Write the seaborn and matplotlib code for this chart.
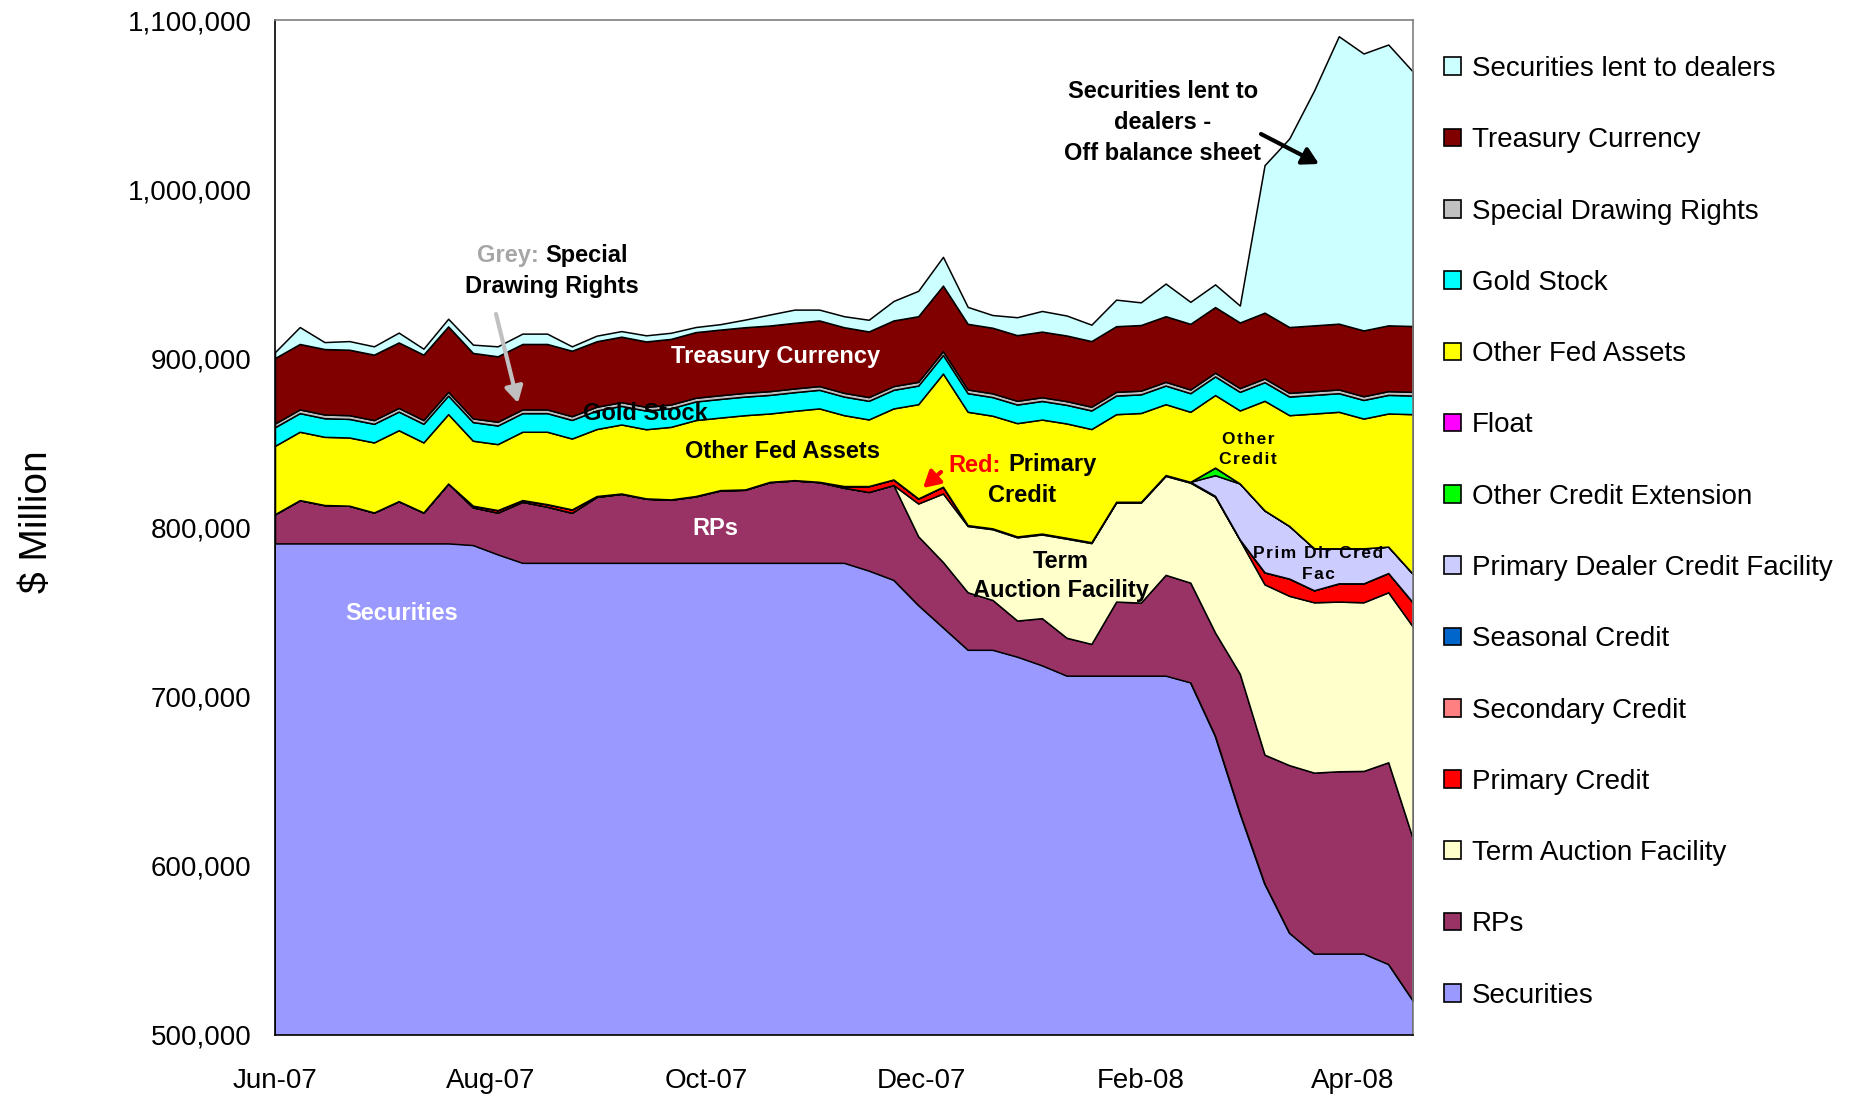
import matplotlib

matplotlib.use("Agg")
import matplotlib.dates as mdates
import matplotlib.pyplot as plt
import pandas as pd
import seaborn as sns
from matplotlib.patches import Patch
from matplotlib.ticker import FuncFormatter, MultipleLocator

W, H = 1860, 1096

# weekly observations, Wednesday levels, $ million
dates = pd.date_range("2007-06-27", periods=47, freq="7D")

securities = [
    790600, 790600, 790600, 790600, 790600, 790600, 790600, 790600, 789600, 784100,
    779100, 779100, 779100, 779100, 779100, 779100, 779100, 779100, 779100, 779100,
    779100, 779100, 779100, 779100, 774500, 769000, 754100, 740900, 727700, 727700,
    723600, 718500, 712400, 712400, 712400, 712400, 712400, 708400, 676800, 631100,
    589400, 560300, 548100, 548100, 548100, 541900, 520200,
]
rps = [
    17300, 25600, 22700, 22300, 18300, 25000, 18300, 35400, 22300, 24700,
    36100, 33200, 29600, 39000, 40800, 37900, 37300, 39300, 42800, 43200,
    47700, 48700, 47700, 44400, 46500, 56100, 40700, 38700, 34000, 29500,
    21400, 27900, 22400, 18800, 43800, 43200, 59600, 59000, 61100, 82400,
    76300, 99200, 107000, 107800, 108000, 119300, 95600,
]
term_auction = [
    0, 0, 0, 0, 0, 0, 0, 0, 0, 0,
    0, 0, 0, 0, 0, 0, 0, 0, 0, 0,
    0, 0, 0, 0, 0, 0, 19400, 40500, 39200, 41800,
    49200, 49500, 58600, 59600, 58500, 59100, 58500, 59100, 80300, 79100,
    100700, 100100, 100700, 100300, 99700, 100500, 125500,
]
primary_credit = [
    0, 0, 0, 0, 0, 0, 0, 0, 1000, 1500,
    1000, 1500, 2000, 500, 200, 200, 200, 200, 200, 200,
    200, 200, 200, 1000, 3500, 3300, 3000, 4000, 500, 500,
    500, 500, 500, 500, 500, 500, 500, 500, 500, 300,
    7100, 10200, 7100, 10800, 11200, 11400, 14300,
]
secondary_credit = [
    0, 0, 0, 0, 0, 0, 0, 0, 0, 0,
    0, 0, 0, 0, 0, 0, 0, 0, 0, 0,
    0, 0, 0, 0, 0, 0, 0, 0, 0, 0,
    0, 0, 0, 0, 0, 0, 0, 0, 0, 0,
    0, 0, 0, 0, 0, 0, 0,
]
seasonal_credit = [
    0, 0, 0, 0, 0, 0, 0, 0, 0, 0,
    0, 0, 0, 0, 0, 0, 0, 0, 0, 0,
    0, 0, 0, 0, 0, 0, 0, 0, 0, 0,
    0, 0, 0, 0, 0, 0, 0, 0, 0, 0,
    0, 0, 0, 0, 0, 0, 0,
]
dealer_credit = [
    0, 0, 0, 0, 0, 0, 0, 0, 0, 0,
    0, 0, 0, 0, 0, 0, 0, 0, 0, 0,
    0, 0, 0, 0, 0, 0, 0, 0, 0, 0,
    0, 0, 0, 0, 0, 0, 0, 0, 12200, 33100,
    36600, 31100, 24800, 20700, 20700, 15600, 16900,
]
other_credit = [
    0, 0, 0, 0, 0, 0, 0, 0, 0, 0,
    0, 0, 0, 0, 0, 0, 0, 0, 0, 0,
    0, 0, 0, 0, 0, 0, 0, 0, 0, 0,
    0, 0, 0, 0, 0, 0, 0, 0, 4500, 0,
    0, 0, 0, 0, 0, 0, 0,
]
float_ = [
    0, 0, 0, 0, 0, 0, 0, 0, 0, 0,
    0, 0, 0, 0, 0, 0, 0, 0, 0, 0,
    0, 0, 0, 0, 0, 0, 0, 0, 0, 0,
    0, 0, 0, 0, 0, 0, 0, 0, 0, 0,
    0, 0, 0, 0, 0, 0, 0,
]
other_fed_assets = [
    40400, 40400, 40300, 40300, 41400, 41900, 41400, 41000, 38400, 39000,
    40400, 42800, 41900, 39600, 40800, 40900, 42900, 44900, 42900, 43900,
    40400, 41000, 43400, 41900, 39400, 42000, 55700, 66900, 67000, 66600,
    67000, 67400, 67600, 66900, 51800, 52500, 41900, 41400, 42900, 43200,
    64800, 65500, 79700, 80700, 76700, 78700, 94500,
]
gold_stock = [
    11000, 11000, 11000, 11000, 11000, 11000, 11000, 11000, 11000, 11000,
    11000, 11000, 11000, 11000, 11000, 11000, 11000, 11000, 11000, 11000,
    11000, 11000, 11000, 11000, 11000, 11000, 11000, 11000, 11000, 11000,
    11000, 11000, 11000, 11000, 11000, 11000, 11000, 11000, 11000, 11000,
    11000, 11000, 11000, 11000, 11000, 11000, 11000,
]
sdr = [
    2200, 2200, 2200, 2200, 2200, 2200, 2200, 2200, 2200, 2200,
    2200, 2200, 2200, 2200, 2200, 2200, 2200, 2200, 2200, 2200,
    2200, 2200, 2200, 2200, 2200, 2200, 2200, 2200, 2200, 2200,
    2200, 2200, 2200, 2200, 2200, 2200, 2200, 2200, 2200, 2200,
    2200, 2200, 2200, 2200, 2200, 2200, 2200,
]
treasury_currency = [
    38700, 38700, 38700, 38700, 38700, 38700, 38700, 38700, 38700, 38700,
    38700, 38700, 38700, 38700, 38700, 38700, 38800, 38800, 38800, 38800,
    38800, 38800, 38800, 38800, 38800, 38800, 38800, 38800, 38800, 38800,
    38800, 38800, 38800, 38800, 38800, 38800, 38800, 38800, 38800, 38800,
    38900, 38900, 38900, 38900, 38900, 38900, 38900,
]
securities_lent = [
    3500, 10000, 4100, 5100, 4900, 5800, 3500, 4500, 4900, 5900,
    6100, 6100, 2600, 3300, 3300, 3600, 3600, 3000, 3200, 4500,
    6500, 7800, 6400, 6500, 6900, 11500, 15000, 17000, 10000, 7500,
    10600, 12200, 11800, 9700, 15700, 13400, 19300, 13000, 13400, 10000,
    87200, 111500, 138800, 169900, 163700, 166000, 150300,
]

# stacking order, bottom to top
series = [
    ("Securities", securities, "#9999FF"),
    ("RPs", rps, "#993366"),
    ("Term Auction Facility", term_auction, "#FFFFCC"),
    ("Primary Credit", primary_credit, "#FF0000"),
    ("Secondary Credit", secondary_credit, "#FF8080"),
    ("Seasonal Credit", seasonal_credit, "#0066CC"),
    ("Primary Dealer Credit Facility", dealer_credit, "#CCCCFF"),
    ("Other Credit Extension", other_credit, "#00FF00"),
    ("Float", float_, "#FF00FF"),
    ("Other Fed Assets", other_fed_assets, "#FFFF00"),
    ("Gold Stock", gold_stock, "#00FFFF"),
    ("Special Drawing Rights", sdr, "#C0C0C0"),
    ("Treasury Currency", treasury_currency, "#800000"),
    ("Securities lent to dealers", securities_lent, "#CCFFFF"),
]

df = pd.DataFrame({name: values for name, values, _ in series}, index=dates)

sns.set_theme(style="white")
plt.rcParams["font.family"] = ["Liberation Sans", "DejaVu Sans"]
plt.rcParams["text.color"] = "black"
plt.rcParams["legend.labelcolor"] = "black"

fig = plt.figure(figsize=(W / 100, H / 100), dpi=100)
ax = fig.add_axes([275 / W, 1 - 1035 / H, (1413 - 275) / W, (1035 - 20) / H])

ax.stackplot(
    df.index,
    *[df[name] for name, _, _ in series],
    colors=[c for _, _, c in series],
    edgecolor="black",
    linewidth=1.1,
)

ax.set_xlim(dates[0], dates[-1])
ax.set_ylim(500000, 1100000)
ax.yaxis.set_major_locator(MultipleLocator(100000))
ax.yaxis.set_major_formatter(FuncFormatter(lambda v, _: f"{v:,.0f}"))
ax.xaxis.set_major_locator(mdates.MonthLocator(bymonth=[2, 4, 6, 8, 10, 12], bymonthday=27))
ax.xaxis.set_major_formatter(mdates.DateFormatter("%b-%y"))
ax.tick_params(axis="both", which="major", direction="out", length=7, width=1,
               color="black", labelsize=20, labelcolor="black")
ax.tick_params(axis="y", pad=10)
ax.tick_params(axis="x", pad=17)
for side in ["left", "bottom"]:
    ax.spines[side].set_color("black")
    ax.spines[side].set_linewidth(1.2)
for side in ["top", "right"]:
    ax.spines[side].set_color("#808080")
    ax.spines[side].set_linewidth(1.2)
ax.grid(False)

fig.text(37 / W, 1 - 522 / H, "$ Million", rotation=90, fontsize=28,
         ha="center", va="center", color="black")

handles = [Patch(facecolor=c, edgecolor="black", linewidth=1.2) for _, _, c in series][::-1]
labels = [name for name, _, _ in series][::-1]
fig.legend(handles, labels, loc="upper left", bbox_to_anchor=(1444 / W, 1 - 56 / H),
           frameon=False, fontsize=20, handlelength=0.6, handleheight=0.6,
           handletextpad=0.4, labelspacing=1.63, borderpad=0, borderaxespad=0)


def note(x, y, s, **kw):
    opts = dict(ha="center", va="center", fontsize=17, fontweight="bold", color="black")
    opts.update(kw)
    fig.text(x / W, 1 - y / H, s, **opts)


def spaced(s):
    return "\u200a".join(s)


def arrow(x1, y1, x2, y2, color, lw=3):
    ax.annotate("", xy=(x2, H - y2), xytext=(x1, H - y1),
                xycoords="figure pixels", textcoords="figure pixels",
                arrowprops=dict(arrowstyle="-|>,head_length=0.8,head_width=0.45",
                                color=color, lw=lw, shrinkA=0, shrinkB=0))


note(402, 614, "Securities", color="white")
note(715, 528, "RPs", color="white")
note(782, 452, "Other Fed Assets")
note(645, 413, "Gold Stock")
note(776, 356, "Treasury Currency", color="white")

note(539, 256, "Grey:", ha="right", color="#A6A6A6")
note(545, 256, "Special", ha="left")
note(552, 286, "Drawing Rights")
arrow(496, 314, 518, 403, "#C0C0C0")

note(1163, 91, "Securities lent to")
note(1163, 122, "dealers -")
note(1163, 153, "Off balance sheet")
arrow(1261, 134, 1319, 164, "black")

note(1001, 465, "Red:", ha="right", color="#FF0000")
note(1008, 465, "Primary", ha="left")
note(1022, 496, "Credit")
arrow(941, 472, 923, 488, "#FF0000")

note(1061, 561, "Term")
note(1061, 591, "Auction Facility")

note(1248, 439, spaced("Other"), fontsize=12.5)
note(1248, 460, spaced("Credit"), fontsize=12.5)
note(1318, 553, spaced("Prim Dlr Cred"), fontsize=12.5)
note(1318, 574, spaced("Fac"), fontsize=12.5)

fig.savefig("out.png", dpi=100)
